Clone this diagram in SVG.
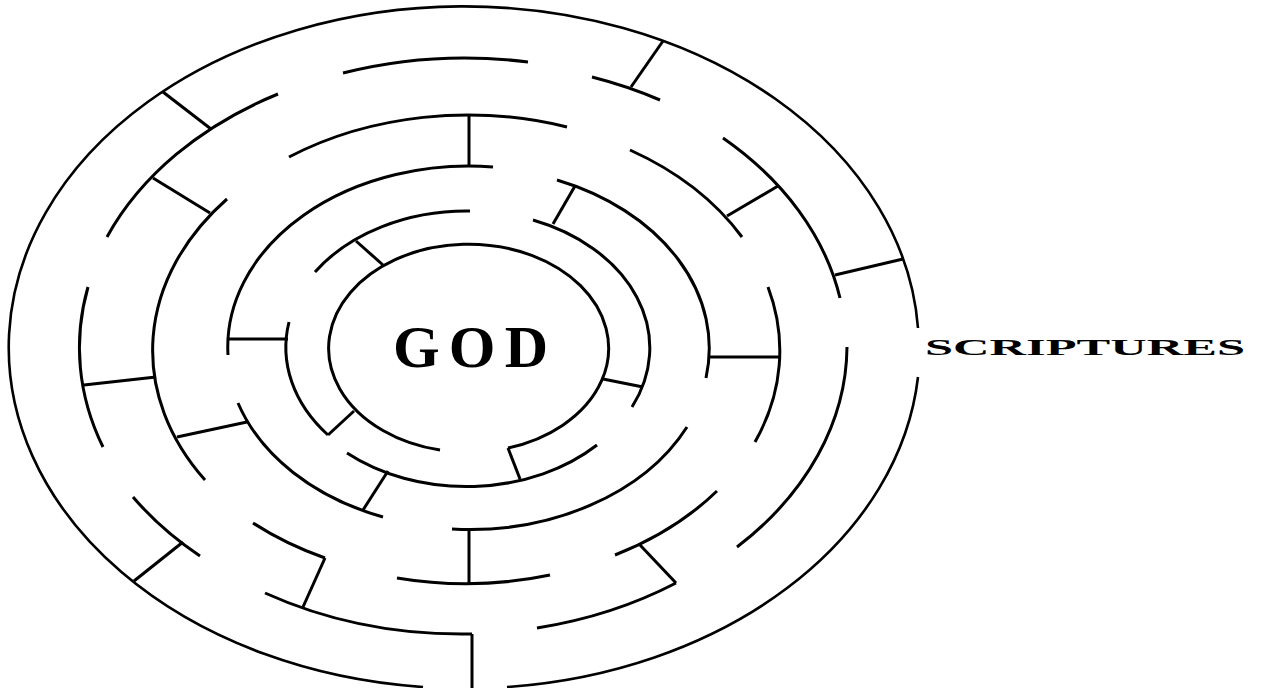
<svg xmlns="http://www.w3.org/2000/svg" width="1262" height="688" viewBox="0 0 1262 688">
<style>
.w{fill:none;stroke:#000;stroke-width:3;stroke-linecap:butt}
.o{stroke-width:2.6}
.t{font-family:"Liberation Serif","Times New Roman",serif;font-weight:bold;fill:#000}
</style>
<rect width="1262" height="688" fill="#fff"/>
<g id="ring6" class="w o">
<path d="M918 377 A455 341 0 0 1 507 687"/>
<path d="M423 687 A455 341 0 1 1 918 328"/>
</g>
<g id="ring5" class="w">
<path d="M107 237 A383.5 288 0 0 1 278 94"/>
<path d="M343 73 A383.5 288 0 0 1 528 62"/>
<path d="M592 77 A383.5 288 0 0 1 660 100"/>
<path d="M723 138 A383.5 288 0 0 1 840 298"/>
<path d="M847 347 A383.5 288 0 0 1 737 547"/>
<path d="M676 583 A383.5 288 0 0 1 537 628"/>
<path d="M472 634 A383.5 288 0 0 1 265 593"/>
<path d="M200 556 A383.5 288 0 0 1 133 497"/>
<path d="M103 447 A383.5 288 0 0 1 88 287"/>
</g>
<g id="ring4" class="w">
<path d="M205 480 A313 234 0 0 1 227 199"/>
<path d="M289 157 A313 234 0 0 1 567 127"/>
<path d="M630 150 A313 234 0 0 1 742 237"/>
<path d="M768 287 A313 234 0 0 1 755 442"/>
<path d="M717 491 A313 234 0 0 1 615 555"/>
<path d="M550 575 A313 234 0 0 1 397 578"/>
<path d="M325 558 A313 234 0 0 1 253 523"/>
</g>
<g id="ring3" class="w">
<path d="M228 355 A241 181 0 0 1 493 167"/>
<path d="M557 180 A241 181 0 0 1 706 378"/>
<path d="M687 427 A241 181 0 0 1 452 529"/>
<path d="M383 517 A241 181 0 0 1 238 403"/>
</g>
<g id="ring2" class="w">
<path d="M315 272 A182 137 0 0 1 470 211"/>
<path d="M533 220 A182 137 0 0 1 632 407"/>
<path d="M597 445 A182 137 0 0 1 347 453"/>
<path d="M328 435 A182 137 0 0 1 289 322"/>
</g>
<g id="ring1" class="w">
<path d="M440 450 A140 104 0 1 1 508 448"/>
</g>
<g id="connectors" class="w">
<path d="M163 92 L211 129"/>
<path d="M663 41 L631 87"/>
<path d="M903 259 L835 275"/>
<path d="M134 581 L183 542"/>
<path d="M84 385 L156 377"/>
<path d="M303 607 L325 558"/>
<path d="M676 583 L640 545"/>
<path d="M778 186 L727 216"/>
<path d="M153 178 L210 213"/>
<path d="M469 115 L469 167"/>
<path d="M469 529 L469 583"/>
<path d="M177 437 L247 422"/>
<path d="M228 339 L288 339"/>
<path d="M709 357 L780 357"/>
<path d="M575 186 L553 224"/>
<path d="M388 471 L363 510"/>
<path d="M356 241 L383 265"/>
<path d="M328 435 L354 411"/>
<path d="M603 379 L643 387"/>
<path d="M508 448 L520 479"/>
<path d="M472 634 L472 690"/>
</g>
<g id="god">
<text class="t" x="393" y="367" font-size="60" textLength="155" lengthAdjust="spacing">GOD</text>
</g>
<g id="scriptures">
<text class="t" x="925" y="355" font-size="23" textLength="320" lengthAdjust="spacingAndGlyphs">SCRIPTURES</text>
</g>
</svg>
